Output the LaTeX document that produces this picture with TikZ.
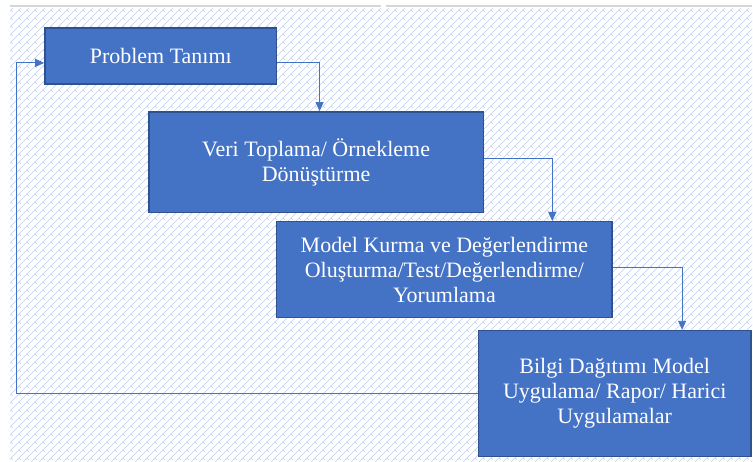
\documentclass[tikz,border=0pt]{standalone}
\usepackage{fontspec}
\setmainfont{Liberation Serif}
\usetikzlibrary{arrows.meta, positioning, patterns.meta}
\definecolor{boxblue}{RGB}{68, 114, 196}
\definecolor{edgeblue}{RGB}{47, 82, 143}
\definecolor{hatchblue}{RGB}{190, 206, 236}
\definecolor{rulegray}{RGB}{214, 214, 214}
\tikzdeclarepattern{
  name=bricks,
  type=uncolored,
  bounding box={(0pt,0pt) and (8pt,8pt)},
  tile size={(8pt,8pt)},
  code={
    \draw[line width=0.6pt] (-1pt,-1pt) -- (9pt,9pt);
    \draw[line width=0.6pt] (4pt,4pt) -- (6pt,2pt);
  }
}

\begin{document}
\begin{tikzpicture}[
  x=1pt, y=-1pt,
  font=\fontsize{22}{25}\selectfont,
  box/.style={draw=edgeblue, line width=1.5pt, fill=boxblue, text=white, align=center, inner sep=2pt},
  chan/.style={-{Triangle[length=9pt, width=8pt]}, boxblue, line width=0.9pt}
]
% backdrop
\fill[white] (0,0) rectangle (753,462);
\fill[pattern=bricks, pattern color=hatchblue] (10,9) rectangle (753,462);
\draw[rulegray, line width=2pt] (10,6) -- (381,6) (387,6) -- (753,6);

% steps
\node[box, minimum width=232pt, minimum height=56pt] (prob) at (161,56) {Problem Tanımı};
\node[box, minimum width=335pt, minimum height=101pt] (veri) at (316.5,162.5) {Veri Toplama/ Örnekleme\\Dönüştürme};
\node[box, minimum width=336pt, minimum height=96pt] (model) at (445,270) {Model Kurma ve Değerlendirme\\Oluşturma/Test/Değerlendirme/\\Yorumlama};
\node[box, minimum width=273pt, minimum height=126pt] (bilgi) at (615.5,394) {Bilgi Dağıtımı Model\\Uygulama/ Rapor/ Harici\\Uygulamalar};

% flow
\draw[chan] ([yshift=-7pt]prob.east) -| ([xshift=3.5pt]veri.north);
\draw[chan] ([yshift=3.5pt]veri.east) -| ([xshift=108pt]model.north);
\draw[chan] ([yshift=2pt]model.east) -| ([xshift=67.5pt]bilgi.north);
\coordinate (back) at (16,63);
\draw[chan] (bilgi.west) -| (back) -- ([yshift=-7pt]prob.west);
\end{tikzpicture}
\end{document}
